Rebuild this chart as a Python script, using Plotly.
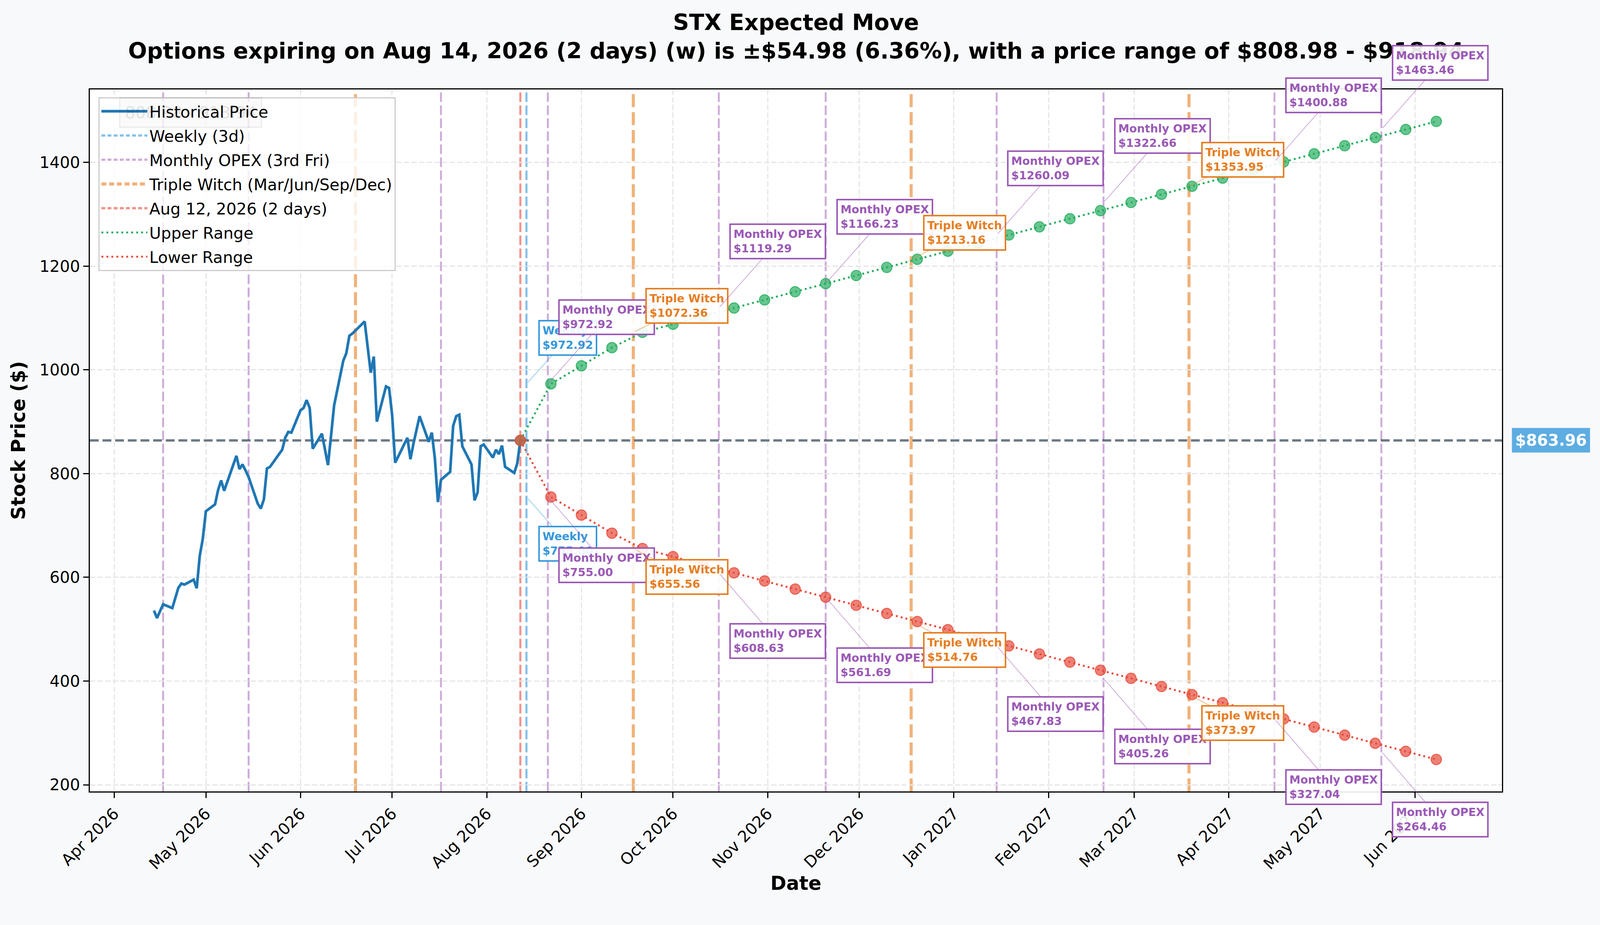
import plotly.graph_objects as go

# ---- data ----
hist_dates = ["2026-04-14", "2026-04-15", "2026-04-16", "2026-04-17", "2026-04-20", "2026-04-21",
              "2026-04-22", "2026-04-23", "2026-04-24", "2026-04-27", "2026-04-28", "2026-04-29",
              "2026-04-30", "2026-05-01", "2026-05-04", "2026-05-05", "2026-05-06", "2026-05-07",
              "2026-05-08", "2026-05-11", "2026-05-12", "2026-05-13", "2026-05-14", "2026-05-15",
              "2026-05-18", "2026-05-19", "2026-05-20", "2026-05-21", "2026-05-22", "2026-05-26",
              "2026-05-27", "2026-05-28", "2026-05-29", "2026-06-01", "2026-06-02", "2026-06-03",
              "2026-06-04", "2026-06-05", "2026-06-08", "2026-06-09", "2026-06-10", "2026-06-11",
              "2026-06-12", "2026-06-15", "2026-06-16", "2026-06-17", "2026-06-18", "2026-06-22",
              "2026-06-23", "2026-06-24", "2026-06-25", "2026-06-26", "2026-06-29", "2026-06-30",
              "2026-07-01", "2026-07-02", "2026-07-06", "2026-07-07", "2026-07-08", "2026-07-09",
              "2026-07-10", "2026-07-13", "2026-07-14", "2026-07-15", "2026-07-16", "2026-07-17",
              "2026-07-20", "2026-07-21", "2026-07-22", "2026-07-23", "2026-07-24", "2026-07-27",
              "2026-07-28", "2026-07-29", "2026-07-30", "2026-07-31", "2026-08-03", "2026-08-04",
              "2026-08-05", "2026-08-06", "2026-08-07", "2026-08-10", "2026-08-11", "2026-08-12"]
hist_prices = [536.0, 521.6, 535.0, 548.0, 540.7, 560.0,
               580.0, 588.0, 586.0, 595.5, 579.0, 641.6,
               674.6, 727.4, 740.6, 768.3, 786.7, 766.9,
               783.0, 834.2, 808.6, 817.7, 806.0, 793.4,
               741.9, 732.6, 750.4, 809.8, 813.0, 846.0,
               869.2, 880.4, 879.0, 922.0, 926.6, 941.7,
               926.6, 848.0, 877.0, 846.0, 816.4, 873.0,
               931.3, 1017.6, 1032.0, 1065.7, 1070.0, 1093.4,
               1045.0, 994.5, 1025.5, 900.2, 968.0, 965.0,
               913.5, 821.0, 869.0, 827.8, 858.0, 885.7,
               910.7, 861.3, 879.0, 829.6, 745.2, 788.0,
               803.2, 892.3, 910.7, 913.5, 852.7, 817.7,
               748.5, 763.7, 852.7, 856.0, 830.9, 846.0,
               837.6, 854.0, 813.1, 801.3, 819.7, 863.96]

current_date = "2026-08-12"
current_price = 863.96
weekly_date = "2026-08-14"

range_dates = ["2026-08-12", "2026-08-22", "2026-09-01", "2026-09-11", "2026-09-21", "2026-10-01",
               "2026-10-11", "2026-10-21", "2026-10-31", "2026-11-10", "2026-11-20", "2026-11-30",
               "2026-12-10", "2026-12-20", "2026-12-30", "2027-01-09", "2027-01-19", "2027-01-29",
               "2027-02-08", "2027-02-18", "2027-02-28", "2027-03-10", "2027-03-20", "2027-03-30",
               "2027-04-09", "2027-04-19", "2027-04-29", "2027-05-09", "2027-05-19", "2027-05-29",
               "2027-06-08"]
upper_range = [863.96, 972.92, 1007.85, 1042.80, 1072.36, 1088.00,
               1103.65, 1119.29, 1134.93, 1150.58, 1166.23, 1181.87,
               1197.51, 1213.16, 1228.80, 1244.45, 1260.09, 1275.73,
               1291.38, 1307.02, 1322.66, 1338.31, 1353.95, 1369.59,
               1385.24, 1400.88, 1416.53, 1432.17, 1447.81, 1463.46,
               1479.10]
lower_range = [863.96, 755.00, 720.07, 685.12, 655.56, 639.92,
               624.27, 608.63, 592.99, 577.34, 561.69, 546.05,
               530.41, 514.76, 499.12, 483.47, 467.83, 452.19,
               436.54, 420.90, 405.26, 389.61, 373.97, 358.33,
               342.68, 327.04, 311.39, 295.75, 280.11, 264.46,
               248.82]

monthly_opex_dates = ["2026-04-17", "2026-05-15", "2026-07-17", "2026-08-21", "2026-10-16",
                      "2026-11-20", "2027-01-15", "2027-02-19", "2027-04-16", "2027-05-21"]
triple_witch_dates = ["2026-06-19", "2026-09-18", "2026-12-18", "2027-03-19"]

# labelled expirations
label_dates = ["2026-08-21", "2026-09-18", "2026-10-16", "2026-11-20", "2026-12-18",
               "2027-01-15", "2027-02-19", "2027-03-19", "2027-04-16", "2027-05-21"]
label_kinds = ["opex", "tw", "opex", "opex", "tw", "opex", "opex", "tw", "opex", "opex"]
label_upper = [972.92, 1072.36, 1119.29, 1166.23, 1213.16, 1260.09, 1322.66, 1353.95, 1400.88, 1463.46]
label_lower = [755.00, 655.56, 608.63, 561.69, 514.76, 467.83, 405.26, 373.97, 327.04, 264.46]
weekly_upper = 972.92
weekly_lower = 755.00

FONT = "DejaVu Sans"
PURPLE = "#9b59b6"
ORANGE = "#e67e22"
BLUE = "#3498db"
RED = "#e74c3c"
GREEN = "#27ae60"
BG = "#f8f9fa"

# the page is laid out on a 4096 css-px wide viewport and shot at 4176 px,
# so every pixel size below is given in screenshot px and scaled by S
S = 4096 / 4176


def px(v):
    return v * S


def dash(a, b):
    return "%.1fpx,%.1fpx" % (a * S, b * S)


fig = go.Figure()

fig.add_trace(go.Scatter(x=hist_dates, y=hist_prices, mode="lines", name="Historical Price",
                         legendgroup="g1", line=dict(color="#1f77b4", width=px(7))))

# legend entries for the vertical lines
fig.add_trace(go.Scatter(x=[None], y=[None], mode="lines", name="Weekly (3d)", legendgroup="g2",
                         line=dict(color="rgba(52,152,219,0.6)", width=px(6), dash=dash(10, 6))))
fig.add_trace(go.Scatter(x=[None], y=[None], mode="lines", name="Monthly OPEX (3rd Fri)", legendgroup="g3",
                         line=dict(color="rgba(155,89,182,0.5)", width=px(6), dash=dash(10, 6))))
fig.add_trace(go.Scatter(x=[None], y=[None], mode="lines", name="Triple Witch (Mar/Jun/Sep/Dec)",
                         legendgroup="g4",
                         line=dict(color="rgba(230,126,34,0.6)", width=px(8), dash=dash(13, 7))))
fig.add_trace(go.Scatter(x=[None], y=[None], mode="lines", name="Aug 12, 2026 (2 days)", legendgroup="g5",
                         line=dict(color="rgba(231,76,60,0.6)", width=px(6), dash=dash(10, 6))))

fig.add_trace(go.Scatter(x=range_dates, y=upper_range, mode="lines", name="Upper Range", legendgroup="g6",
                         line=dict(color=GREEN, width=px(5), dash=dash(5, 8))))
fig.add_trace(go.Scatter(x=range_dates, y=lower_range, mode="lines", name="Lower Range", legendgroup="g7",
                         line=dict(color=RED, width=px(5), dash=dash(5, 8))))
fig.add_trace(go.Scatter(x=range_dates, y=upper_range, mode="markers", showlegend=False,
                         marker=dict(size=px(27), color="rgba(39,174,96,0.7)",
                                     line=dict(color="rgba(39,174,96,0.85)", width=px(2.5)))))
fig.add_trace(go.Scatter(x=range_dates, y=lower_range, mode="markers", showlegend=False,
                         marker=dict(size=px(27), color="rgba(231,76,60,0.7)",
                                     line=dict(color="rgba(231,76,60,0.85)", width=px(2.5)))))

# vertical / horizontal reference lines
shapes = []
for d in monthly_opex_dates:
    shapes.append(dict(type="line", xref="x", yref="paper", x0=d, x1=d, y0=0, y1=1, layer="between",
                       line=dict(color="rgba(155,89,182,0.5)", width=px(5), dash=dash(25, 9))))
for d in triple_witch_dates:
    shapes.append(dict(type="line", xref="x", yref="paper", x0=d, x1=d, y0=0, y1=1, layer="between",
                       line=dict(color="rgba(230,126,34,0.6)", width=px(8), dash=dash(34, 13))))
shapes.append(dict(type="line", xref="x", yref="paper", x0=current_date, x1=current_date, y0=0, y1=1,
                   layer="between", line=dict(color="rgba(231,76,60,0.6)", width=px(5.5), dash=dash(25, 9))))
shapes.append(dict(type="line", xref="x", yref="paper", x0=weekly_date, x1=weekly_date, y0=0, y1=1,
                   layer="between", line=dict(color="rgba(52,152,219,0.6)", width=px(5.5), dash=dash(25, 9))))
shapes.append(dict(type="line", xref="paper", yref="y", x0=0, x1=1, y0=current_price, y1=current_price,
                   layer="between", line=dict(color="rgba(44,62,80,0.7)", width=px(6), dash=dash(23, 10))))

annotations = []
# two-line title
annotations.append(dict(xref="paper", yref="paper", x=0.5, y=1.0955, xanchor="center", yanchor="middle",
                        text="STX Expected Move", showarrow=False,
                        font=dict(family=FONT, size=px(58), color="black", weight="bold")))
annotations.append(dict(xref="paper", yref="paper", x=0.5, y=1.0551, xanchor="center", yanchor="middle",
                        text="Options expiring on Aug 14, 2026 (2 days) (w) is ±$54.98 (6.36%), "
                             "with a price range of $808.98 - $918.94", showarrow=False,
                        font=dict(family=FONT, size=px(58), color="black", weight="bold")))

# faint range text sitting behind the legend
annotations.append(dict(xref="paper", yref="paper", x=0.0714, y=0.967, xanchor="center", yanchor="middle",
                        text="808.98 - 918.94", showarrow=False,
                        font=dict(family=FONT, size=px(43), color="rgba(0,0,0,0.11)"),
                        bgcolor="rgba(0,0,0,0.02)", bordercolor="rgba(0,0,0,0.07)",
                        borderwidth=px(3), borderpad=px(12)))


def label(x, y, text, color, arrow, ax, ay):
    return dict(x=x, y=y, xref="x", yref="y", text=text, showarrow=True, ax=px(ax), ay=px(ay),
                axref="pixel", ayref="pixel", arrowhead=0, arrowwidth=px(2), arrowcolor=arrow,
                standoff=px(5), align="left",
                font=dict(family=FONT, size=px(29), color=color, weight="bold"),
                bgcolor="rgba(255,255,255,0.9)", bordercolor=color, borderwidth=px(4), borderpad=px(7))


annotations.append(label(weekly_date, weekly_upper, "Weekly<br>$%.2f" % weekly_upper, BLUE,
                         "rgba(52,152,219,0.5)", 108, -120))
annotations.append(label(weekly_date, weekly_lower, "Weekly<br>$%.2f" % weekly_lower, BLUE,
                         "rgba(52,152,219,0.5)", 108, 122))
for d, k, up, lo in zip(label_dates, label_kinds, label_upper, label_lower):
    if k == "opex":
        name, col, arr, dx, dyu, dyl = "Monthly OPEX", PURPLE, "rgba(155,89,182,0.5)", 154, -174, 178
    else:
        name, col, arr, dx, dyu, dyl = "Triple Witch", ORANGE, "rgba(230,126,34,0.5)", 140, -69, 74
    annotations.append(label(d, up, "%s<br>$%.2f" % (name, up), col, arr, dx, dyu))
    annotations.append(label(d, lo, "%s<br>$%.2f" % (name, lo), col, arr, dx, dyl))

# current price tag on the right
annotations.append(dict(xref="paper", yref="y", x=1.0068, y=current_price, xanchor="left",
                        yanchor="middle", text="$%.2f" % current_price, showarrow=False,
                        font=dict(family=FONT, size=px(41), color="white", weight="bold"),
                        bgcolor="#5dade2", borderpad=px(8)))

fig.update_layout(
    width=round(4176 * S), height=round(2368 * S),
    paper_bgcolor=BG, plot_bgcolor="white",
    margin=dict(l=px(234), r=px(256), t=px(233), b=px(303), autoexpand=False),
    font=dict(family=FONT, size=px(42), color="black"),
    shapes=shapes,
    annotations=annotations,
    showlegend=True,
    legend=dict(x=0.006, y=0.989, xanchor="left", yanchor="top", bgcolor="rgba(255,255,255,0.8)",
                bordercolor="#cccccc", borderwidth=px(3), font=dict(family=FONT, size=px(41.7)),
                traceorder="grouped", tracegroupgap=px(6), itemwidth=px(120)),
)

fig.update_xaxes(
    type="date", range=["2026-03-24", "2027-06-29 12:00"],
    dtick="M1", tick0="2026-04-01", tickformat="%b %Y", tickangle=-45,
    tickfont=dict(family=FONT, size=px(41.7)),
    ticks="outside", ticklen=px(14), tickwidth=px(3), tickcolor="black",
    showline=True, linecolor="black", linewidth=px(3), mirror=True,
    showgrid=True, gridcolor="#e6e6e6", gridwidth=px(3), griddash=dash(14, 6),
    zeroline=False, automargin=False,
    title=dict(text="Date", font=dict(family=FONT, size=px(50), weight="bold"), standoff=px(6)),
)
fig.update_yaxes(
    range=[187.3, 1540.6], dtick=200, tick0=0,
    tickfont=dict(family=FONT, size=px(41.7)),
    ticks="outside", ticklen=px(14), tickwidth=px(3), tickcolor="black",
    showline=True, linecolor="black", linewidth=px(3), mirror=True,
    showgrid=True, gridcolor="#e6e6e6", gridwidth=px(3), griddash=dash(14, 6),
    zeroline=False, automargin=False,
    title=dict(text="Stock Price ($)", font=dict(family=FONT, size=px(50), weight="bold"), standoff=px(22)),
)

# drop the default page margin so the figure starts at the window corner
fig.write_html("out.html", config={"displayModeBar": False},
               post_script="document.body.style.margin='0';document.body.style.overflow='hidden';"
                           "document.body.style.background='%s';" % BG)
